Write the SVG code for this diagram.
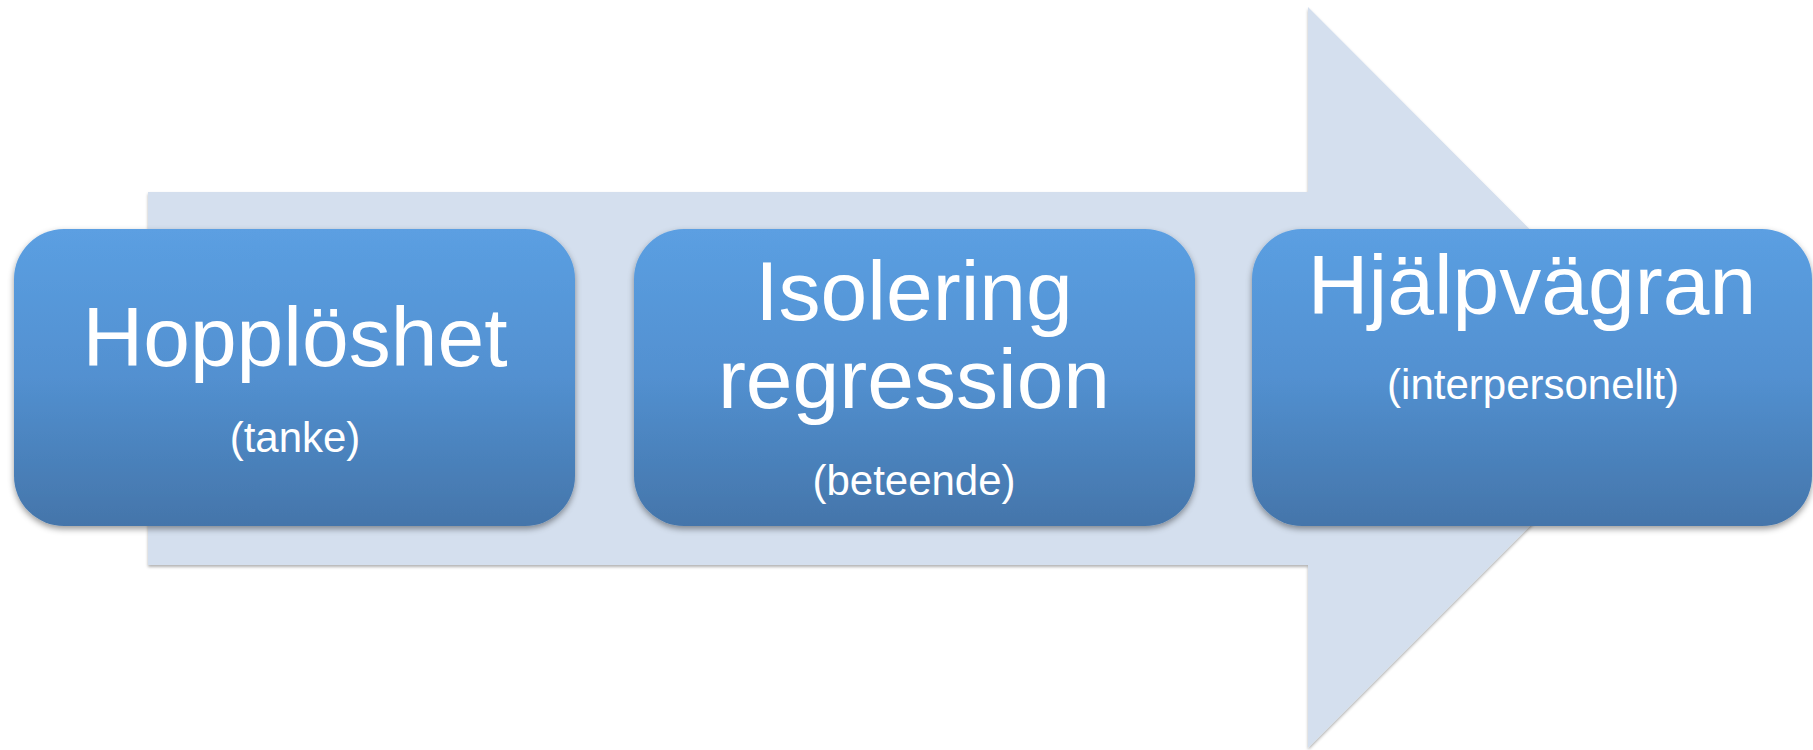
<svg xmlns="http://www.w3.org/2000/svg" width="1813" height="750" viewBox="0 0 1813 750">
  <defs>
    <linearGradient id="boxFill" x1="0" y1="0" x2="0" y2="1">
      <stop offset="0" stop-color="#5B9FE2"/>
      <stop offset="0.5" stop-color="#5290D0"/>
      <stop offset="1" stop-color="#4475AA"/>
    </linearGradient>
    <filter id="arrowShadow" x="-5%" y="-5%" width="110%" height="110%">
      <feDropShadow dx="0" dy="2" stdDeviation="1.5" flood-color="#000" flood-opacity="0.3"/>
    </filter>
    <filter id="boxShadow" x="-5%" y="-5%" width="110%" height="115%">
      <feDropShadow dx="0" dy="3" stdDeviation="3" flood-color="#000" flood-opacity="0.4"/>
    </filter>
    <style>
      .box { fill: url(#boxFill); filter: url(#boxShadow); }
      .title { font-family: "Liberation Sans", Arial, sans-serif; font-size: 84px; fill: #FFFFFF; text-anchor: middle; }
      .sub { font-family: "Liberation Sans", Arial, sans-serif; font-size: 42px; fill: #FFFFFF; text-anchor: middle; }
    </style>
  </defs>

  <rect width="1813" height="750" fill="#FFFFFF"/>

  <!-- background process arrow -->
  <g id="process-arrow">
    <polygon points="148,192 1308,192 1308,7 1678,378 1308,748 1308,565 148,565" fill="#D4DFEE" filter="url(#arrowShadow)"/>
  </g>

  <!-- no connector lines; the steps sit on the arrow -->
  <g id="connectors"/>

  <g id="node-hopploshet">
    <rect class="box" x="14" y="229" width="561" height="297" rx="50" ry="50"/>
    <text class="title" x="295" y="366">Hopplöshet</text>
    <text class="sub" x="295" y="452">(tanke)</text>
  </g>

  <g id="node-isolering">
    <rect class="box" x="634" y="229" width="561" height="297" rx="50" ry="50"/>
    <text class="title" x="914" y="320">Isolering</text>
    <text class="title" x="914" y="408">regression</text>
    <text class="sub" x="914" y="495">(beteende)</text>
  </g>

  <g id="node-hjalpvagran">
    <rect class="box" x="1252" y="229" width="560" height="297" rx="50" ry="50"/>
    <text class="title" x="1532" y="314">Hjälpvägran</text>
    <text class="sub" x="1533" y="399">(interpersonellt)</text>
  </g>
</svg>
